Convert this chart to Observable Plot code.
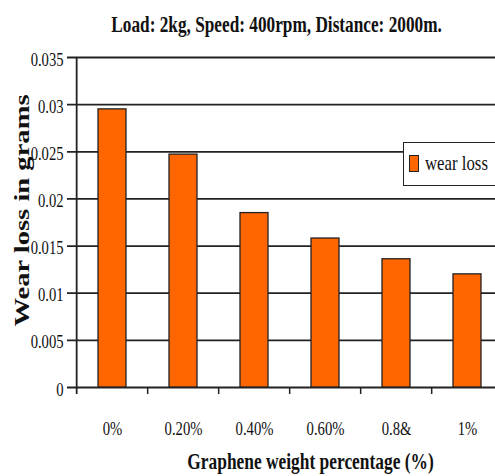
<!DOCTYPE html>
<html><head><meta charset="utf-8">
<script src="https://cdn.jsdelivr.net/npm/d3@7"></script>
<script src="https://cdn.jsdelivr.net/npm/@observablehq/plot@0.6"></script>
<style>
html,body{margin:0;padding:0;overflow:hidden;background:#fff;}
#wrap{position:relative;width:495px;height:476px;overflow:hidden;}
#wrap svg{position:absolute;left:0;top:0;max-width:none !important;height:476px !important;}
#title{position:absolute;left:0;top:14px;width:554px;text-align:center;font:bold 22.4px "Liberation Serif",serif;line-height:22.4px;color:#111;white-space:nowrap;z-index:2;}
#title span{display:inline-block;transform:scaleX(0.77);}
#legend{position:absolute;left:403px;top:142px;width:110px;height:44px;box-sizing:border-box;border:1.5px solid #222;background:#fff;z-index:2;}
#legend .sw{position:absolute;left:4.5px;top:11.5px;width:10px;height:17px;box-sizing:border-box;border:1px solid #222;background:#FF6600;}
#legend .lb{position:absolute;left:20.5px;top:10.2px;font:21.8px "Liberation Serif",serif;line-height:21.8px;color:#111;white-space:nowrap;transform:scaleX(0.77);transform-origin:left center;}
</style>
</head><body>
<div id="wrap">
  <div id="title"><span></span></div>
  <div id="legend"><div class="sw"></div><span class="lb"></span></div>
</div>
<script>
const title = "Load: 2kg, Speed: 400rpm, Distance: 2000m.";
const categories = ["0%", "0.20%", "0.40%", "0.60%", "0.8&", "1%"];
const wearLoss = [0.0295, 0.0247, 0.0185, 0.0158, 0.0136, 0.0120];
const seriesName = "wear loss";
const yTicks = [0, 0.005, 0.01, 0.015, 0.02, 0.025, 0.03, 0.035];
const yLabel = "Wear loss in grams";
const xLabel = "Graphene weight percentage (%)";

document.querySelector("#title span").textContent = title;
document.querySelector("#legend .lb").textContent = seriesName;

const W = 505, H = 476, ML = 74, MR = 1, MT = 57, MB = 89;
const step = (W - ML - MR) / categories.length;
const k = 1.3;
const data = categories.map((c, i) => ({c, v: wearLoss[i]}));

const chart = Plot.plot({
  width: W, height: H,
  marginLeft: ML, marginRight: MR, marginTop: MT, marginBottom: MB,
  style: {fontFamily: '"Liberation Serif", serif', color: "#111", background: "#fff", maxWidth: "none"},
  x: {domain: categories, paddingInner: 0.609, paddingOuter: 0.3045, label: null},
  y: {domain: [0, 0.035], label: null},
  marks: [
    Plot.ruleY(yTicks, {stroke: "#222", strokeWidth: 1.8, insetLeft: -7}),
    Plot.ruleX([categories[0]], {dx: -step / 2, stroke: "#222", strokeWidth: 1.8, insetBottom: -7}),
    Plot.ruleX(categories.slice(1), {dx: -step / 2, stroke: "#222", strokeWidth: 1.5, insetTop: H - MT - MB, insetBottom: -7}),
    Plot.barY(data, {x: "c", y: "v", fill: "#FF6600", stroke: "#222", strokeWidth: 1.3}),
    Plot.axisY(yTicks, {tickSize: 0, tickPadding: 11, dy: 2, fontSize: 19, label: null, tickFormat: d => `${d}`}),
    Plot.axisX({tickSize: 0, tickPadding: 33.5, fontSize: 19.1, label: null}),
    Plot.text([yLabel], {frameAnchor: "left", textAnchor: "middle", dx: -53, dy: -12, rotate: -90, fontWeight: "bold", fontSize: 22}),
    Plot.text([xLabel], {frameAnchor: "bottom", textAnchor: "middle", lineAnchor: "bottom", dx: 21, dy: 81, fontWeight: "bold", fontSize: 22.6})
  ]
});
document.getElementById("wrap").insertBefore(chart, document.getElementById("title"));

// The reference picture is stretched vertically: squeeze horizontal text, lengthen rotated text.
chart.querySelectorAll("text").forEach(t => {
  const rotated = !!t.closest('[transform*="rotate"]');
  const s = rotated ? k : 1 / k;
  if (t.hasAttribute("x")) t.setAttribute("x", +t.getAttribute("x") / s);
  const tr = t.getAttribute("transform") || "";
  t.setAttribute("transform", `${tr} scale(${s},1)`.trim());
});
</script>
</body></html>
